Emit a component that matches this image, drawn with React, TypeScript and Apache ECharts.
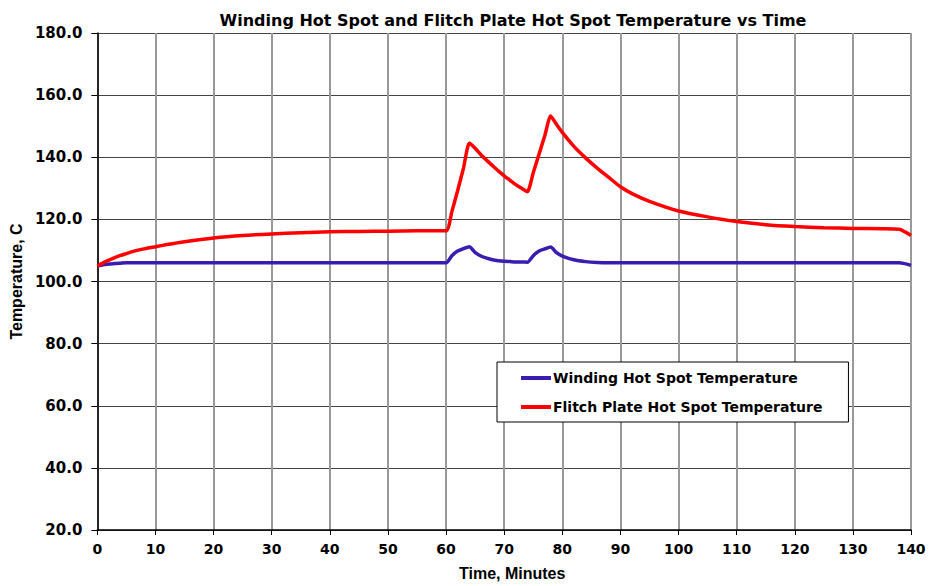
import React, { useEffect, useRef } from "react";
import * as echarts from "echarts";

const times = [0, 1, 2, 3, 4, 5, 6, 8, 10, 12, 15, 20, 25, 30, 35, 40, 45, 50, 55, 60, 61, 62, 63, 64, 65, 66, 67, 68, 69, 70, 71, 72, 73, 74, 75, 76, 77, 78, 79, 80, 82, 84, 86, 88, 90, 92, 95, 100, 105, 110, 115, 120, 125, 130, 135, 138, 140];

const windingHotSpot = [105.0, 105.4, 105.6, 105.8, 105.9, 106.0, 106.0, 106.0, 106.0, 106.0, 106.0, 106.0, 106.0, 106.0, 106.0, 106.0, 106.0, 106.0, 106.0, 106.0, 108.3, 109.8, 110.6, 111.2, 109.4, 108.2, 107.5, 107.0, 106.7, 106.5, 106.4, 106.3, 106.3, 106.2, 108.3, 109.8, 110.5, 111.1, 109.3, 108.2, 107.0, 106.4, 106.1, 106.0, 106.0, 106.0, 106.0, 106.0, 106.0, 106.0, 106.0, 106.0, 106.0, 106.0, 106.0, 106.0, 105.2];

const flitchPlateHotSpot = [105.0, 106.0, 106.9, 107.7, 108.4, 109.0, 109.6, 110.5, 111.2, 111.9, 112.8, 114.0, 114.8, 115.3, 115.7, 116.0, 116.1, 116.2, 116.3, 116.3, 122.5, 129.3, 136.5, 144.5, 142.9, 140.8, 139.0, 137.3, 135.6, 134.0, 132.6, 131.2, 130.0, 128.9, 135.0, 141.0, 147.0, 153.3, 150.6, 148.0, 143.5, 139.8, 136.5, 133.5, 130.5, 128.3, 125.8, 122.7, 120.8, 119.3, 118.3, 117.7, 117.3, 117.1, 117.0, 116.8, 114.8];

const seriesNames = ["Winding Hot Spot Temperature", "Flitch Plate Hot Spot Temperature"];
const titleText = "Winding Hot Spot and Flitch Plate Hot Spot Temperature vs Time";
const xName = "Time, Minutes";
const yName = "Temperature, C";

const WIDE = "'DejaVu Sans', Verdana, sans-serif";
const NARROW = "'Liberation Sans', Arial, sans-serif";

export default function App() {
  const ref = useRef<HTMLDivElement>(null);
  useEffect(() => {
    if (!ref.current) return;
    const chart = echarts.init(ref.current, null, { renderer: "svg" });
    const pair = (vals: number[]) => times.map((t, i) => [t, vals[i]]);
    chart.setOption({
      animation: false,
      backgroundColor: "#fff",
      title: {
        text: titleText,
        left: 508,
        top: 7,
        textAlign: "center",
        textStyle: { fontFamily: WIDE, fontWeight: "bold", fontSize: 16, color: "#000" },
      },
      grid: { left: 97, right: 18, top: 33, bottom: 51, containLabel: false },
      legend: {
        orient: "vertical",
        left: 497,
        top: 362,
        backgroundColor: "#fff",
        borderColor: "#000",
        borderWidth: 1,
        borderRadius: 0,
        padding: [9, 26, 8, 24],
        itemGap: 15,
        itemWidth: 30,
        itemHeight: 4,
        icon: "rect",
        textStyle: { fontFamily: WIDE, fontWeight: "bold", fontSize: 14, color: "#000", padding: [0, 0, 0, -3] },
        data: seriesNames,
      },
      xAxis: {
        type: "value",
        min: 0,
        max: 140,
        interval: 10,
        name: xName,
        nameLocation: "middle",
        nameGap: 35,
        nameTextStyle: { fontFamily: NARROW, fontWeight: "bold", fontSize: 16, color: "#000", padding: [0, 0, 0, 16] },
        axisLine: { show: true, onZero: false, lineStyle: { color: "#000", width: 1.5 } },
        axisTick: { show: true, length: 5, lineStyle: { color: "#000" } },
        axisLabel: { fontFamily: WIDE, fontWeight: "bold", fontSize: 14, color: "#000", margin: 12 },
        splitLine: { show: true, lineStyle: { color: "#999", width: 2 } },
      },
      yAxis: {
        type: "value",
        min: 20,
        max: 180,
        interval: 20,
        name: yName,
        nameLocation: "middle",
        nameGap: 73,
        nameTextStyle: { fontFamily: NARROW, fontWeight: "bold", fontSize: 16, color: "#000" },
        axisLine: { show: true, onZero: false, lineStyle: { color: "#000", width: 1.5 } },
        axisTick: { show: true, length: 6, lineStyle: { color: "#000" } },
        axisLabel: {
          fontFamily: WIDE,
          fontWeight: "bold",
          fontSize: 15,
          color: "#000",
          margin: 15,
          formatter: (v: number) => v.toFixed(1),
        },
        splitLine: { show: true, lineStyle: { color: "#444", width: 1 } },
      },
      series: [
        {
          name: seriesNames[0],
          type: "line",
          data: pair(windingHotSpot),
          showSymbol: false,
          smooth: 0.2,
          color: "#3a1cb0",
          lineStyle: { width: 3.5, color: "#3a1cb0" },
          z: 3,
        },
        {
          name: seriesNames[1],
          type: "line",
          data: pair(flitchPlateHotSpot),
          showSymbol: false,
          smooth: 0.2,
          color: "#ff0000",
          lineStyle: { width: 3.5, color: "#ff0000" },
          z: 4,
        },
      ],
    });
    return () => chart.dispose();
  }, []);
  return <div ref={ref} style={{ width: 929, height: 586, position: "absolute", left: 0, top: 0 }} />;
}
